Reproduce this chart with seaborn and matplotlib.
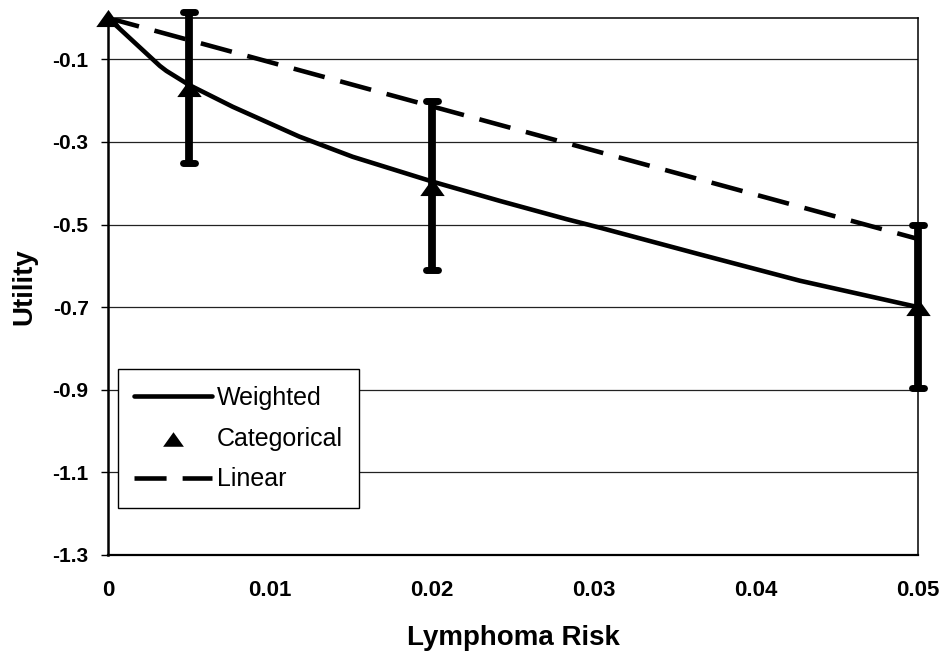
import numpy as np
import pandas as pd
import matplotlib
matplotlib.use('Agg')
import matplotlib.pyplot as plt
import seaborn as sns
from matplotlib.markers import MarkerStyle

# --- data ---
risk_weighted = [0, 0.0016, 0.0032, 0.0036, 0.005, 0.0077, 0.0118, 0.0151, 0.0201,
                 0.0242, 0.0283, 0.0304, 0.0365, 0.0427, 0.05]
utility_weighted = [0, -0.058, -0.116, -0.128, -0.162, -0.215, -0.287, -0.336, -0.397,
                    -0.443, -0.487, -0.508, -0.572, -0.636, -0.70]

risk_linear = [0, 0.05]
utility_linear = [0, -0.535]

risk_cat = [0, 0.005, 0.02, 0.05]
utility_cat = [0, -0.17, -0.41, -0.70]
cat_low = [0, -0.35, -0.61, -0.895]
cat_high = [0, 0.015, -0.20, -0.50]

x_ticks = [0, 0.01, 0.02, 0.03, 0.04, 0.05]
x_tick_labels = ['0', '0.01', '0.02', '0.03', '0.04', '0.05']
y_ticks = [-1.3, -1.1, -0.9, -0.7, -0.5, -0.3, -0.1]

sns.set_theme(style='white')
plt.rcParams['font.family'] = ['Liberation Sans', 'DejaVu Sans']

df_w = pd.DataFrame({'risk': risk_weighted, 'utility': utility_weighted})
df_l = pd.DataFrame({'risk': risk_linear, 'utility': utility_linear})
df_c = pd.DataFrame({'risk': risk_cat, 'utility': utility_cat,
                     'low': cat_low, 'high': cat_high})

fig, ax = plt.subplots(figsize=(9.44, 6.56), dpi=100)
fig.subplots_adjust(left=0.1144, right=0.9725, bottom=0.154, top=0.9726)

sns.lineplot(data=df_w, x='risk', y='utility', ax=ax, color='black', lw=3.3,
             sort=False, estimator=None, label='Weighted', zorder=2)
sns.lineplot(data=df_l, x='risk', y='utility', ax=ax, color='black', lw=3.3,
             sort=False, estimator=None, label='Linear', zorder=2)
ax.lines[-1].set_dashes((7, 3.5))

# error bars (the point at 0 has none)
eb = df_c[(df_c['high'] - df_c['low']) > 0]
err = [eb['utility'] - eb['low'], eb['high'] - eb['utility']]
_, caps, bars = ax.errorbar(eb['risk'], eb['utility'], yerr=err, fmt='none',
                            ecolor='black', elinewidth=5.6, capsize=4.6,
                            capthick=5, zorder=3, clip_on=False)
for c in caps:
    c.set_marker(MarkerStyle('_', capstyle='round'))
    c.set_clip_on(False)
for b in bars:
    b.set_clip_on(False)

tri = [(0, 0.7), (-1, -0.7), (1, -0.7)]
sns.scatterplot(data=df_c, x='risk', y='utility', ax=ax, marker=tri, s=310,
                color='black', edgecolor='black', linewidth=0,
                label='Categorical', zorder=4, clip_on=False)

ax.set_xlim(0, 0.05)
ax.set_ylim(-1.3, 0)
ax.set_xticks(x_ticks)
ax.set_xticklabels(x_tick_labels)
ax.set_yticks(y_ticks)
ax.set_yticklabels([f'{v:.1f}' for v in y_ticks])
ax.yaxis.grid(True, color='#222222', lw=0.9)
ax.xaxis.grid(False)
ax.set_axisbelow(True)

for lab in ax.get_xticklabels():
    lab.set_fontweight('bold')
    lab.set_fontsize(16)
for lab in ax.get_yticklabels():
    lab.set_fontweight('bold')
    lab.set_fontsize(15)
ax.tick_params(axis='x', length=0, pad=18, colors='black')
ax.tick_params(axis='y', direction='out', length=5, width=1, pad=9,
               colors='black', left=True)

ax.set_xlabel('Lymphoma Risk', fontsize=20, fontweight='bold', labelpad=17,
              color='black')
ax.set_ylabel('Utility', fontsize=20, fontweight='bold', labelpad=11,
              color='black')

for side in ['left', 'bottom', 'top', 'right']:
    ax.spines[side].set_color('black')
    ax.spines[side].set_visible(True)
ax.spines['left'].set_linewidth(1.8)
ax.spines['bottom'].set_linewidth(1.6)
ax.spines['top'].set_linewidth(1.1)
ax.spines['right'].set_linewidth(1.1)

handles, labels = ax.get_legend_handles_labels()
order = ['Weighted', 'Categorical', 'Linear']
hmap = dict(zip(labels, handles))
leg = ax.legend([hmap[k] for k in order], order, loc='lower left',
                bbox_to_anchor=(0.0123, 0.0875), borderaxespad=0,
                fontsize=18, frameon=True, fancybox=False, framealpha=1,
                edgecolor='black', handlelength=3.1, handletextpad=0.2,
                borderpad=0.66, labelspacing=0.67, markerscale=0.85)
leg.get_frame().set_linewidth(1.0)
for t in leg.get_texts():
    t.set_color('black')

plt.savefig('out.png', dpi=100)
